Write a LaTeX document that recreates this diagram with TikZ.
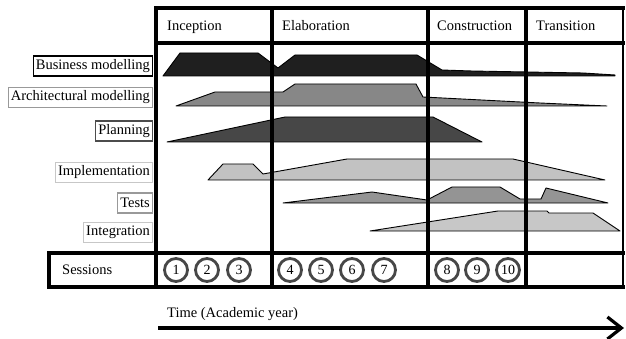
\documentclass[tikz,border=0pt]{standalone}
\usepackage{fontspec}
\setmainfont{Liberation Serif}
\usetikzlibrary{arrows.meta}

\begin{document}
\begin{tikzpicture}[x=1pt,y=-1pt,font=\fontsize{14.5}{16}\selectfont]
  \tikzset{
    grid/.style={black,line width=3.2pt,line cap=rect},
    flowbox/.style={draw,anchor=east,line width=1.3pt,inner xsep=2.5pt,inner ysep=2pt,minimum height=20pt},
    phase/.style={anchor=base west,inner sep=0pt},
    session/.style={circle,draw=black!72,line width=2.8pt,minimum size=23pt,inner sep=0pt,font=\fontsize{14}{14}\selectfont},
    wf/.style={draw=black,line width=0.9pt,line join=round}}
  \useasboundingbox (0,0) rectangle (626,339);

  % workflow names
  \node[flowbox,draw=black]    (bus)  at (153,66)  {Business modelling};
  \node[flowbox,draw=black!40] (arch) at (153,97.5){Architectural modelling};
  \node[flowbox,draw=black!70] (plan) at (153,131) {Planning};
  \node[flowbox,draw=black!22] (impl) at (153,172.5){Implementation};
  \node[flowbox,draw=black!40] (test) at (153,203) {Tests};
  \node[flowbox,draw=black!22] (intg) at (153,232.5){Integration};

  % effort profiles
  \filldraw[wf,fill=black!88] (163,76) -- (180,53) -- (258,53) -- (278,68) -- (295,55) -- (417,55)
    -- (442,70) -- (472,71) -- (583,73) -- (615,75) -- (615,76) -- cycle;
  \filldraw[wf,fill=black!47] (176,106) -- (215,92) -- (283,92) -- (295,84) -- (416,84) -- (423,97)
    -- (540,103) -- (607,106) -- cycle;
  \filldraw[wf,fill=black!72] (167,142) -- (285,117) -- (433,117) -- (482,142) -- cycle;
  \filldraw[wf,fill=black!24] (208,180) -- (223,164) -- (253,164) -- (263,174) -- (347,159)
    -- (513,159) -- (605,180) -- cycle;
  \filldraw[wf,fill=black!42] (283,203) -- (372,192) -- (427,200) -- (452,187) -- (500,187)
    -- (520,199) -- (541,199) -- (546,188) -- (608,203) -- cycle;
  \filldraw[wf,fill=black!22] (370,231) -- (498,211) -- (547,211) -- (549,213) -- (593,213)
    -- (620,231) -- cycle;

  % table lines
  \draw[grid] (156,8) -- (623,8);
  \draw[grid] (156,43) -- (623,43);
  \draw[grid] (49,253) -- (623,253);
  \draw[grid] (49,287) -- (623,287);
  \draw[grid] (49,253) -- (49,287);
  \foreach \x in {156,272,428,526}
    \draw[grid] (\x,8) -- (\x,287);
  \draw[line width=1.8pt] (623,8) -- (623,287);

  % phases
  \node[phase] (inc) at (167,31) {Inception};
  \node[phase] (ela) at (282,31) {Elaboration};
  \node[phase] (con) at (437,31) {Construction};
  \node[phase] (tra) at (536,31) {Transition};

  % sessions
  \node[phase] (ses) at (62,274) {Sessions};
  \foreach \n/\x in {1/176,2/207,3/239,4/290,5/321,6/352,7/384,8/447,9/477,10/508}
    \node[session] (s\n) at (\x,270) {\n};

  % time axis
  \node[phase] (time) at (167,317) {Time (Academic year)};
  \coordinate (t0) at (158,328);
  \coordinate (t1) at (624,328);
  \draw[grid,line cap=butt,-{Straight Barb[length=14pt,width=22pt]}] (t0) -- (t1);
\end{tikzpicture}
\end{document}
